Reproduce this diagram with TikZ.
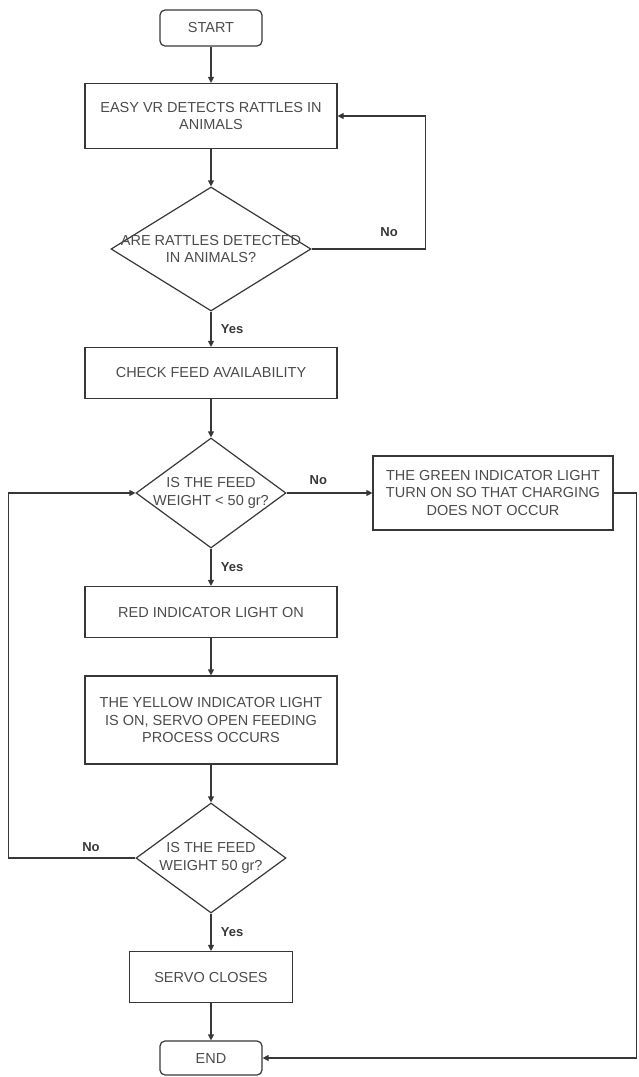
\documentclass[tikz,border=0pt]{standalone}
\usepackage{fontspec}
\setmainfont{Liberation Sans}
\definecolor{linegray}{RGB}{55, 55, 55}
\definecolor{textgray}{RGB}{75, 75, 75}
\usetikzlibrary{shapes, arrows.meta, positioning, calc}

\begin{document}
\begin{tikzpicture}[x=1pt, y=-1pt, font=\fontsize{14.5}{17.5}\selectfont,
    box/.style={draw=linegray, line width=1.2pt, minimum width=252pt, minimum height=51pt, align=center, text=textgray, inner sep=2pt},
    term/.style={draw=linegray, line width=1.2pt, rounded corners=5pt, minimum width=102pt, minimum height=36pt, text=textgray},
    decision/.style={diamond, draw=linegray, line width=1.2pt, minimum width=150pt, minimum height=110pt, inner sep=0pt},
    arrow/.style={-{Triangle[length=6pt, width=6pt]}, linegray, line width=1.2pt},
    answer/.style={font=\fontsize{13}{15}\selectfont\bfseries, text=linegray}]
                \useasboundingbox (0,0) rectangle (638,1077);

                % Main column
                \node[term] (start) at (211,28) {START};
                \node[box, minimum height=65pt] (detect) at (211,116) {EASY VR DETECTS RATTLES IN\\ANIMALS};
                \node[decision, minimum width=200pt, minimum height=124pt,
                      label={[align=center, text=textgray]center:ARE RATTLES DETECTED\\IN ANIMALS?}] (rattles) at (211,249) {};
                \node[box] (check) at (211,373) {CHECK FEED AVAILABILITY};
                \node[decision, label={[align=center, text=textgray]center:IS THE FEED\\WEIGHT < 50 gr?}] (weight1) at (211,493) {};
                \node[box] (red) at (211,612) {RED INDICATOR LIGHT ON};
                \node[box, minimum height=88pt] (yellow) at (211,720) {THE YELLOW INDICATOR LIGHT\\IS ON, SERVO OPEN FEEDING\\PROCESS OCCURS};
                \node[decision, label={[align=center, text=textgray]center:IS THE FEED\\WEIGHT 50 gr?}] (weight2) at (211,858) {};
                \node[box, minimum width=163pt] (servo) at (211,977) {SERVO CLOSES};
                \node[term, minimum height=34pt] (end) at (211,1058) {END};

                % Side branch
                \node[box, minimum width=240pt, minimum height=74pt] (green) at (493,493) {THE GREEN INDICATOR LIGHT\\TURN ON SO THAT CHARGING\\DOES NOT OCCUR};

                % Straight arrows
                \draw[arrow] (start) -- (detect);
                \draw[arrow] (detect) -- (rattles);
                \draw[arrow] (rattles) -- node[answer, right=6pt] {Yes} (check);
                \draw[arrow] (check) -- (weight1);
                \draw[arrow] (weight1) -- node[answer, right=6pt] {Yes} (red);
                \draw[arrow] (red) -- (yellow);
                \draw[arrow] (yellow) -- (weight2);
                \draw[arrow] (weight2) -- node[answer, right=6pt] {Yes} (servo);
                \draw[arrow] (servo) -- (end);
                \draw[arrow] (weight1) -- node[answer, pos=0.37, above=4pt] {No} (green);

                % Loops
                \draw[arrow] (rattles.east) -- node[answer, pos=0.68, above=8pt] {No} ++(114,0) |- (detect.east);
                \draw[arrow] (weight2.west) -- node[answer, pos=0.35, above=2pt] {No} ++(-127,0) |- (weight1.west);
                \draw[arrow] (green.east) -- ++(23,0) |- (end.east);
            \end{tikzpicture}
\end{document}
